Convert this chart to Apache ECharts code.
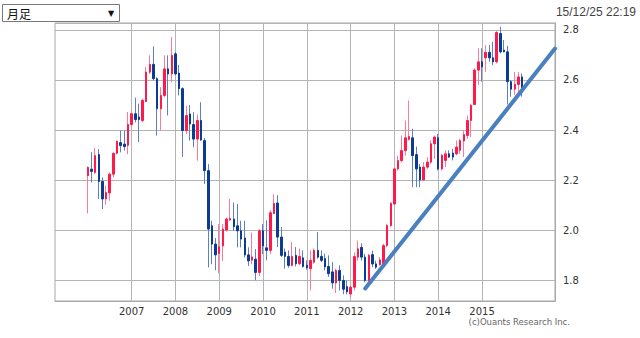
<!DOCTYPE html>
<html>
<head>
<meta charset="utf-8">
<script src="https://cdn.jsdelivr.net/npm/echarts@6/dist/echarts.min.js"></script>
<style>
  html, body { margin: 0; padding: 0; background: #fff; }
  #chart { width: 640px; height: 338px; }
</style>
</head>
<body>
<div id="chart"></div>
<script>
// Monthly candles, first bar = 2006/01
const firstBar = [2006, 1];
// Category axis runs a little past the data on both sides
const axisFirst = [2005, 4];
const axisLast = [2016, 9];

const open = [
  2.218, 2.244, 2.231, 2.302, 2.195, 2.125, 2.149, 2.224, 2.307, 2.350, 2.344, 2.339,
  2.422, 2.465, 2.452, 2.438, 2.514, 2.631, 2.662, 2.605, 2.485, 2.538, 2.644, 2.624,
  2.704, 2.627, 2.565, 2.398, 2.464, 2.422, 2.364, 2.438, 2.358, 2.238, 2.018, 1.945,
  1.908, 1.938, 2.001, 2.041, 2.045, 2.018, 1.998, 1.969, 1.902, 1.881, 1.885, 1.832,
  1.998, 1.930, 1.920, 2.067, 2.109, 1.973, 1.913, 1.896, 1.860, 1.900, 1.867, 1.890,
  1.860, 1.847, 1.873, 1.920, 1.896, 1.887, 1.856, 1.834, 1.790, 1.840, 1.800, 1.775,
  1.746, 1.773, 1.893, 1.932, 1.893, 1.800, 1.903, 1.866, 1.863, 1.866, 1.939, 2.019,
  2.105, 2.245, 2.278, 2.318, 2.363, 2.369, 2.302, 2.252, 2.201, 2.252, 2.272, 2.345,
  2.369, 2.245, 2.279, 2.305, 2.308, 2.305, 2.319, 2.356, 2.378, 2.438, 2.502, 2.639,
  2.672, 2.688, 2.710, 2.688, 2.672, 2.785, 2.719, 2.712, 2.593, 2.563, 2.582, 2.612
];
const close = [
  2.251, 2.235, 2.298, 2.195, 2.125, 2.151, 2.224, 2.307, 2.355, 2.338, 2.334, 2.422,
  2.465, 2.442, 2.442, 2.518, 2.631, 2.662, 2.605, 2.485, 2.538, 2.644, 2.624, 2.698,
  2.624, 2.565, 2.398, 2.458, 2.424, 2.364, 2.438, 2.360, 2.238, 2.005, 1.945, 1.902,
  1.934, 2.005, 2.045, 2.047, 2.014, 1.998, 1.965, 1.902, 1.878, 1.894, 1.832, 1.998,
  1.938, 1.920, 2.070, 2.107, 1.973, 1.900, 1.896, 1.860, 1.896, 1.867, 1.896, 1.856,
  1.851, 1.880, 1.920, 1.893, 1.880, 1.854, 1.827, 1.790, 1.840, 1.800, 1.765, 1.755,
  1.773, 1.895, 1.926, 1.893, 1.800, 1.900, 1.866, 1.853, 1.882, 1.939, 2.019, 2.108,
  2.245, 2.278, 2.318, 2.369, 2.374, 2.298, 2.245, 2.201, 2.252, 2.272, 2.345, 2.372,
  2.245, 2.299, 2.305, 2.292, 2.292, 2.332, 2.358, 2.382, 2.438, 2.498, 2.639, 2.672,
  2.652, 2.710, 2.688, 2.672, 2.789, 2.712, 2.712, 2.593, 2.563, 2.582, 2.612, 2.550
];
const low = [
  2.067, 2.191, 2.224, 2.125, 2.085, 2.102, 2.118, 2.211, 2.304, 2.311, 2.318, 2.304,
  2.412, 2.431, 2.352, 2.431, 2.511, 2.624, 2.598, 2.378, 2.398, 2.531, 2.458, 2.591,
  2.618, 2.538, 2.293, 2.384, 2.358, 2.331, 2.278, 2.358, 2.185, 1.852, 1.865, 1.841,
  1.828, 1.878, 1.995, 2.038, 1.998, 1.932, 1.932, 1.892, 1.858, 1.865, 1.801, 1.818,
  1.905, 1.880, 1.905, 2.064, 1.933, 1.893, 1.847, 1.851, 1.856, 1.856, 1.860, 1.851,
  1.843, 1.760, 1.867, 1.887, 1.873, 1.840, 1.814, 1.767, 1.750, 1.760, 1.745, 1.745,
  1.730, 1.760, 1.879, 1.879, 1.793, 1.793, 1.853, 1.846, 1.859, 1.859, 1.932, 2.012,
  2.103, 2.238, 2.272, 2.298, 2.358, 2.172, 2.172, 2.172, 2.198, 2.245, 2.265, 2.285,
  2.239, 2.239, 2.252, 2.289, 2.279, 2.299, 2.305, 2.292, 2.365, 2.372, 2.500, 2.579,
  2.593, 2.632, 2.672, 2.659, 2.666, 2.706, 2.710, 2.502, 2.533, 2.539, 2.546, 2.533
];
const high = [
  2.255, 2.311, 2.328, 2.324, 2.211, 2.178, 2.231, 2.311, 2.358, 2.398, 2.398, 2.472,
  2.478, 2.529, 2.505, 2.525, 2.651, 2.698, 2.734, 2.611, 2.571, 2.698, 2.698, 2.771,
  2.711, 2.660, 2.571, 2.497, 2.500, 2.471, 2.462, 2.511, 2.368, 2.264, 2.038, 1.969,
  2.025, 2.025, 2.051, 2.125, 2.111, 2.105, 2.038, 2.038, 1.932, 1.991, 1.925, 2.005,
  2.025, 2.040, 2.080, 2.144, 2.140, 2.013, 1.927, 1.920, 1.953, 1.933, 1.927, 1.920,
  1.880, 1.920, 1.927, 1.993, 1.920, 1.907, 1.900, 1.873, 1.847, 1.860, 1.820, 1.800,
  1.780, 1.912, 1.959, 1.948, 1.906, 1.906, 1.919, 1.879, 1.893, 1.946, 2.026, 2.112,
  2.249, 2.298, 2.378, 2.438, 2.518, 2.405, 2.334, 2.265, 2.272, 2.292, 2.358, 2.378,
  2.385, 2.305, 2.319, 2.319, 2.325, 2.358, 2.365, 2.398, 2.458, 2.505, 2.646, 2.726,
  2.726, 2.739, 2.739, 2.752, 2.795, 2.812, 2.759, 2.736, 2.599, 2.632, 2.632, 2.626
];

// Years that get a label and a grid line
const yearLabels = ['2007', '2008', '2009', '2010', '2011', '2012', '2013', '2014', '2015'];

// Support line: [month, price] at each end
const trendFrom = ['2012/05', 1.768];
const trendTo = ['2016/09', 2.725];

const UP = '#ff1a4b', UP_WICK = '#ff7a98';
const DOWN = '#0c3b96', DOWN_WICK = '#5d7fc6';

function monthName(y, m) {
  return y + '/' + String(m).padStart(2, '0');
}
function monthRange(from, to) {
  const out = [];
  let [y, m] = from;
  while (y < to[0] || (y === to[0] && m <= to[1])) {
    out.push(monthName(y, m));
    m++;
    if (m > 12) { m = 1; y++; }
  }
  return out;
}

const categories = monthRange(axisFirst, axisLast);
const startIdx = categories.indexOf(monthName(firstBar[0], firstBar[1]));
const barMonths = open.map((_, i) => categories[startIdx + i]);

// full candle (wick) and body-only candle
const wickData = barMonths.map((mo, i) => [mo, open[i], close[i], low[i], high[i]]);
const bodyData = barMonths.map((mo, i) => [
  mo, open[i], close[i], Math.min(open[i], close[i]), Math.max(open[i], close[i])
]);

const isYearStart = (index, value) =>
  value.endsWith('/01') && yearLabels.includes(value.slice(0, 4));

const chart = echarts.init(document.getElementById('chart'), null, { renderer: 'svg' });

chart.setOption({
  backgroundColor: '#fff',
  animation: false,
  grid: {
    left: 55, right: 85, top: 23, bottom: 37,
    show: true, borderColor: '#a8a8a8', borderWidth: 1, backgroundColor: '#fff'
  },
  xAxis: {
    type: 'category',
    data: categories,
    boundaryGap: false,
    axisLine: { show: true, lineStyle: { color: '#a8a8a8' } },
    axisTick: { show: false },
    axisLabel: {
      interval: isYearStart,
      formatter: v => v.slice(0, 4),
      color: '#333', fontSize: 10, fontFamily: 'DejaVu Sans', margin: 5
    },
    splitLine: { show: true, interval: isYearStart, lineStyle: { color: '#b4b4b4', width: 1 } }
  },
  yAxis: {
    type: 'value',
    position: 'right',
    min: 1.718, max: 2.827,
    splitNumber: 5,
    axisLine: { show: true, lineStyle: { color: '#a8a8a8' } },
    axisTick: { show: false },
    axisLabel: {
      color: '#333', fontSize: 10, fontFamily: 'DejaVu Sans', margin: 8,
      formatter: v => (Math.abs(v * 5 - Math.round(v * 5)) < 1e-6 ? v.toFixed(1) : '')
    },
    splitLine: { show: true, lineStyle: { color: '#b4b4b4', width: 1 } }
  },
  series: [
    {
      name: 'wick',
      type: 'candlestick',
      data: wickData,
      encode: { x: 0, y: [1, 2, 3, 4] },
      barWidth: 1,
      itemStyle: {
        color: UP_WICK, color0: DOWN_WICK,
        borderColor: UP_WICK, borderColor0: DOWN_WICK, borderWidth: 1
      },
      silent: true
    },
    {
      name: 'body',
      type: 'candlestick',
      data: bodyData,
      encode: { x: 0, y: [1, 2, 3, 4] },
      barWidth: 2,
      itemStyle: {
        color: UP, color0: DOWN,
        borderColor: UP, borderColor0: DOWN, borderWidth: 1
      },
      silent: true,
      markLine: {
        silent: true,
        symbol: ['none', 'none'],
        label: { show: false },
        lineStyle: { color: '#4a7fc0', width: 4, type: 'solid', cap: 'round' },
        data: [[{ coord: trendFrom }, { coord: trendTo }]]
      }
    }
  ],
  graphic: [
    {
      type: 'rect',
      shape: { x: 2.5, y: 4.5, width: 117, height: 17 },
      style: { fill: '#fff', stroke: '#7a7a7a', lineWidth: 1 }
    },
    {
      type: 'text', x: 7, y: 13,
      style: { text: '月足', fontSize: 12, fontFamily: 'Noto Sans CJK JP', fill: '#111', verticalAlign: 'middle' }
    },
    {
      type: 'text', x: 111, y: 13,
      style: { text: '▼', fontSize: 8, fontFamily: 'DejaVu Sans', fill: '#111', align: 'center', verticalAlign: 'middle' }
    },
    {
      type: 'text', x: 636, y: 12,
      style: { text: '15/12/25 22:19', fontSize: 12, fontFamily: 'Liberation Sans', fill: '#444', align: 'right', verticalAlign: 'middle' }
    },
    {
      type: 'text', x: 570, y: 322,
      style: { text: '(c)Ouants Research Inc.', fontSize: 8.5, fontFamily: 'DejaVu Sans', fill: '#666', align: 'right', verticalAlign: 'middle' }
    }
  ]
});
</script>
</body>
</html>
